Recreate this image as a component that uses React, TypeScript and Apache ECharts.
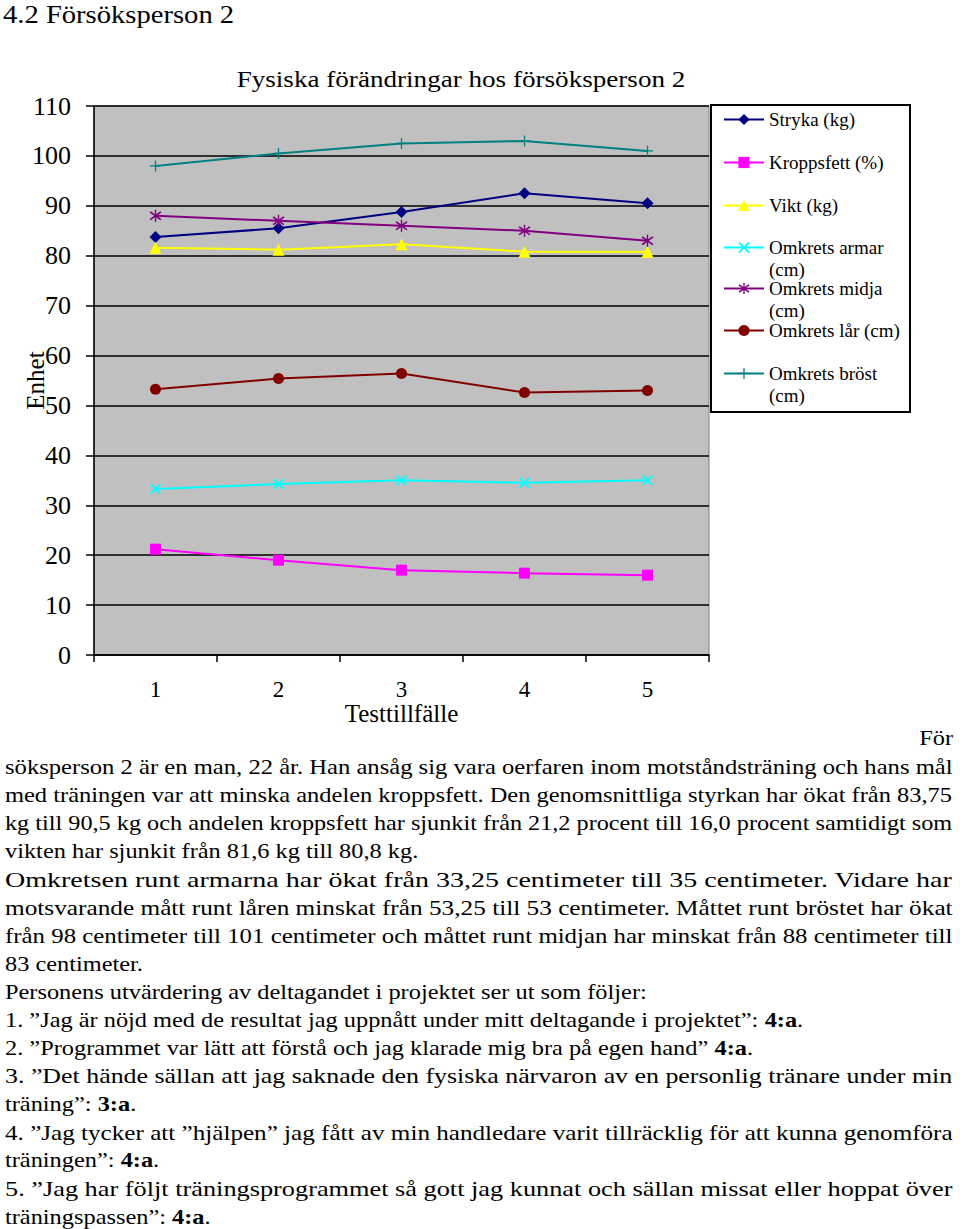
import React, { useEffect, useRef } from "react";
import * as echarts from "echarts";

const FONT = "'Liberation Serif', 'Times New Roman', serif";

const categories = ["1", "2", "3", "4", "5"];
const stryka = [83.75, 85.5, 88.75, 92.5, 90.5];
const kroppsfett = [21.2, 19.0, 17.0, 16.4, 16.0];
const vikt = [81.6, 81.2, 82.3, 80.8, 80.8];
const armar = [33.25, 34.25, 35, 34.5, 35];
const midja = [88, 87, 86, 85, 83];
const lar = [53.25, 55.4, 56.4, 52.6, 53];
const brost = [98, 100.5, 102.5, 103, 101];

const seriesNames = [
  "Stryka (kg)",
  "Kroppsfett (%)",
  "Vikt (kg)",
  "Omkrets armar (cm)",
  "Omkrets midja (cm)",
  "Omkrets lår (cm)",
  "Omkrets bröst (cm)",
];
const legendFirstLines = [
  "Stryka (kg)",
  "Kroppsfett (%)",
  "Vikt (kg)",
  "Omkrets armar",
  "Omkrets midja",
  "Omkrets lår (cm)",
  "Omkrets bröst",
];
const legendSecondLines = ["", "", "", "(cm)", "(cm)", "", "(cm)"];
const seriesColors = ["#000080", "#FF00FF", "#FFFF00", "#00FFFF", "#800080", "#800000", "#008080"];

const pageTitle = "4.2 Försöksperson 2";
const chartTitle = "Fysiska förändringar hos försöksperson 2";
const xName = "Testtillfälle";
const yName = "Enhet";

const bodyFirst = "För";
const bodyLines = [
  "söksperson 2 är en man, 22 år. Han ansåg sig vara oerfaren inom motståndsträning och hans mål",
  "med träningen var att minska andelen kroppsfett. Den genomsnittliga styrkan har ökat från 83,75",
  "kg till 90,5 kg och andelen kroppsfett har sjunkit från 21,2 procent till 16,0 procent samtidigt som",
  "vikten har sjunkit från 81,6 kg till 80,8 kg.",
  "Omkretsen runt armarna har ökat från 33,25 centimeter till 35 centimeter. Vidare har",
  "motsvarande mått runt låren minskat från 53,25 till 53 centimeter. Måttet runt bröstet har ökat",
  "från 98 centimeter till 101 centimeter och måttet runt midjan har minskat från 88 centimeter till",
  "83 centimeter.",
  "Personens utvärdering av deltagandet i projektet ser ut som följer:",
  "1. ”Jag är nöjd med de resultat jag uppnått under mitt deltagande i projektet”: {b|4:a}.",
  "2. ”Programmet var lätt att förstå och jag klarade mig bra på egen hand” {b|4:a}.",
  "3. ”Det hände sällan att jag saknade den fysiska närvaron av en personlig tränare under min",
  "träning”: {b|3:a}.",
  "4. ”Jag tycker att ”hjälpen” jag fått av min handledare varit tillräcklig för att kunna genomföra",
  "träningen”: {b|4:a}.",
  "5. ”Jag har följt träningsprogrammet så gott jag kunnat och sällan missat eller hoppat över",
  "träningspassen”: {b|4:a}.",
];
const bodyJustified = [true, true, true, false, true, true, true, false, false, false, false, true, false, true, false, true, false];

const X_PATH = "path://M0,1.2L1.2,0L5,3.8L8.8,0L10,1.2L6.2,5L10,8.8L8.8,10L5,6.2L1.2,10L0,8.8L3.8,5Z";
const PLUS_PATH = "path://M4.4,0H5.6V4.4H10V5.6H5.6V10H4.4V5.6H0V4.4H4.4Z";
const STAR_PATH =
  "path://M0,2.2L1.0,1.2L5,4.2L9,1.2L10,2.2L6.2,5L10,7.8L9,8.8L5,5.8L1.0,8.8L0,7.8L3.8,5ZM4.4,0H5.6V10H4.4Z";

const seriesData = [stryka, kroppsfett, vikt, armar, midja, lar, brost];
const symbols = ["diamond", "rect", "triangle", X_PATH, STAR_PATH, "circle", PLUS_PATH];
const symbolSizes = [12, 11, 12, 11, 12, 11, 11];

const legendCenters = [119, 162, 205, 247, 288, 330, 373];
const legendSecondY = [0, 0, 0, 269, 310, 0, 395];

export default function App() {
  const ref = useRef<HTMLDivElement>(null);
  useEffect(() => {
    if (!ref.current) return;
    const chart = echarts.init(ref.current, null, { renderer: "svg" });

    const canvas = document.createElement("canvas");
    const ctx = canvas.getContext("2d");
    const measure = (t: string, size: number) => {
      if (!ctx) return t.length * size * 0.45;
      ctx.font = `${size}px "Liberation Serif"`;
      return ctx.measureText(t).width;
    };

    const series = seriesNames.map((name, i) => ({
      name,
      type: "line",
      data: seriesData[i],
      symbol: symbols[i],
      symbolSize: symbolSizes[i],
      lineStyle: { color: seriesColors[i], width: 2 },
      itemStyle: { color: seriesColors[i] },
      z: 3,
    }));

    const legends = seriesNames.map((name, i) => ({
      show: true,
      orient: "vertical",
      left: 723,
      top: legendCenters[i] - 9,
      padding: 0,
      itemWidth: 40,
      itemHeight: 14,
      data: [name],
      selectedMode: false,
      formatter: () => legendFirstLines[i],
      textStyle: { fontFamily: FONT, fontSize: 19, color: "#000", lineHeight: 14 },
      z: 5,
    }));

    const txt = (text: string, x: number, y: number, size: number, align: string, scaleX = 1, extra: any = {}) => ({
      type: "text",
      x,
      y,
      scaleX,
      z: 6,
      style: {
        text,
        fontFamily: FONT,
        fontSize: size,
        fill: "#000",
        align,
        verticalAlign: "middle",
        textAlign: align,
        textVerticalAlign: "middle",
        ...extra,
      },
    });

    const graphics: any[] = [
      {
        type: "rect",
        shape: { x: 711, y: 105, width: 199, height: 307 },
        style: { fill: "#fff", stroke: "#000", lineWidth: 2 },
        z: 1,
      },
      txt(pageTitle, 3, 14, 26, "left", 1.1),
      txt(chartTitle, 461, 79, 24, "center", 1.13),
      txt(bodyFirst, 953, 738, 21, "right", 1.16),
    ];
    legendSecondLines.forEach((t, i) => {
      if (!t) return;
      graphics.push(txt(t, 769, legendSecondY[i], 19, "left", 1, { lineHeight: 15 }));
    });
    const BODY_SIZE = 21;
    bodyLines.forEach((t, i) => {
      let sx = 1.16;
      if (bodyJustified[i]) {
        const w = measure(t, BODY_SIZE);
        sx = 948 / w;
      }
      graphics.push(
        txt(t, 5, 767 + i * 28.1, BODY_SIZE, "left", sx, {
          rich: {
            b: { fontFamily: FONT, fontSize: BODY_SIZE, fontWeight: "bold", fill: "#000", color: "#000" },
          },
        })
      );
    });

    chart.setOption({
      animation: false,
      backgroundColor: "#fff",
      legend: legends,
      grid: {
        left: 94,
        top: 106,
        width: 615,
        height: 549,
        show: true,
        backgroundColor: "#c0c0c0",
        borderColor: "#808080",
        borderWidth: 1,
        containLabel: false,
        outerBoundsMode: "none",
      },
      xAxis: {
        type: "category",
        data: categories,
        boundaryGap: true,
        name: xName,
        nameLocation: "middle",
        nameGap: 46,
        nameMoveOverlap: false,
        nameTextStyle: { fontFamily: FONT, fontSize: 25, color: "#000" },
        axisLine: { show: true, lineStyle: { color: "#000", width: 1.5 } },
        axisTick: { show: true, alignWithLabel: false, length: 7, lineStyle: { color: "#000", width: 1.5 } },
        axisLabel: { fontFamily: FONT, fontSize: 23, color: "#000", margin: 23 },
        splitLine: { show: false },
      },
      yAxis: {
        type: "value",
        min: 0,
        max: 110,
        interval: 10,
        name: yName,
        nameLocation: "middle",
        nameGap: 46,
        nameMoveOverlap: false,
        nameRotate: 90,
        nameTextStyle: { fontFamily: FONT, fontSize: 25, color: "#000" },
        axisLine: { show: true, lineStyle: { color: "#000", width: 1.5 } },
        axisTick: { show: true, length: 8, lineStyle: { color: "#000", width: 1.5 } },
        axisLabel: { fontFamily: FONT, fontSize: 26, color: "#000", margin: 23 },
        splitLine: { show: true, lineStyle: { color: "#000", width: 1.5 } },
      },
      series,
      graphic: graphics,
    });
    return () => chart.dispose();
  }, []);
  return (
    <div
      ref={ref}
      style={{ position: "absolute", left: 0, top: 0, width: 960, height: 1229, background: "#fff" }}
    />
  );
}
